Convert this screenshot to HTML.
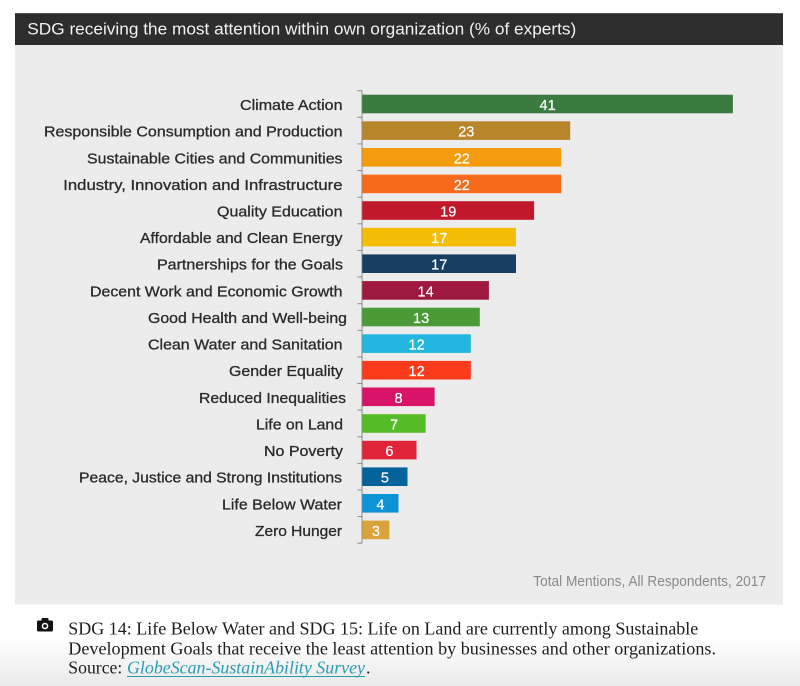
<!DOCTYPE html>
<html>
<head>
<meta charset="utf-8">
<style>
  html, body { margin:0; padding:0; background:#fff; }
  body { width:800px; height:686px; overflow:hidden; }
  svg { display:block; }
  .lbl { font-family:"Liberation Sans", sans-serif; font-size:14.5px; fill:#2b2b2b; stroke:#2b2b2b; stroke-width:0.3px; }
  .val { font-family:"Liberation Sans", sans-serif; font-size:14.5px; fill:#fff; text-anchor:middle; stroke:#fff; stroke-width:0.2px; }
  .cap { font-family:"Liberation Serif", serif; font-size:18px; fill:#1e1e1e; }
</style>
</head>
<body>
<svg width="800" height="686" viewBox="0 0 800 686" xmlns="http://www.w3.org/2000/svg">
  <defs>
    <linearGradient id="bg" x1="0" y1="0" x2="0" y2="1">
      <stop offset="0" stop-color="#ffffff"/>
      <stop offset="1" stop-color="#e9e9e9"/>
    </linearGradient>
  </defs>
  <rect x="0" y="0" width="800" height="686" fill="#fff"/>
  <rect x="0" y="640" width="800" height="46" fill="url(#bg)"/>

  <!-- header -->
  <rect x="15" y="13" width="768" height="32" fill="#2d2d2d"/>
  <rect x="15" y="13" width="768" height="1" fill="#555"/>
  <text x="27.3" y="34.3" font-family="Liberation Sans, sans-serif" font-size="17" fill="#f2f2f2" textLength="549" lengthAdjust="spacingAndGlyphs">SDG receiving the most attention within own organization (% of experts)</text>

  <!-- panel -->
  <rect x="15" y="45" width="768" height="559.5" fill="#ececec"/>

  <!-- axis -->
  <line x1="362" y1="90.7" x2="362" y2="543.3" stroke="#8a8a8a" stroke-width="1"/>
  <g stroke="#8a8a8a" stroke-width="1">
    <line x1="357.5" y1="90.7" x2="362" y2="90.7"/>
    <line x1="357.5" y1="117.3" x2="362" y2="117.3"/>
    <line x1="357.5" y1="143.9" x2="362" y2="143.9"/>
    <line x1="357.5" y1="170.6" x2="362" y2="170.6"/>
    <line x1="357.5" y1="197.2" x2="362" y2="197.2"/>
    <line x1="357.5" y1="223.8" x2="362" y2="223.8"/>
    <line x1="357.5" y1="250.4" x2="362" y2="250.4"/>
    <line x1="357.5" y1="277.0" x2="362" y2="277.0"/>
    <line x1="357.5" y1="303.7" x2="362" y2="303.7"/>
    <line x1="357.5" y1="330.3" x2="362" y2="330.3"/>
    <line x1="357.5" y1="356.9" x2="362" y2="356.9"/>
    <line x1="357.5" y1="383.5" x2="362" y2="383.5"/>
    <line x1="357.5" y1="410.1" x2="362" y2="410.1"/>
    <line x1="357.5" y1="436.8" x2="362" y2="436.8"/>
    <line x1="357.5" y1="463.4" x2="362" y2="463.4"/>
    <line x1="357.5" y1="490.0" x2="362" y2="490.0"/>
    <line x1="357.5" y1="516.6" x2="362" y2="516.6"/>
    <line x1="357.5" y1="543.2" x2="362" y2="543.2"/>
  </g>

  <!-- bars -->
  <rect x="362.3" y="94.7" width="370.6" height="18.6" fill="#3b7b40"/>
  <rect x="362.3" y="121.3" width="207.9" height="18.6" fill="#b8862a"/>
  <rect x="362.3" y="148.0" width="198.9" height="18.6" fill="#f59b0e"/>
  <rect x="362.3" y="174.6" width="198.9" height="18.6" fill="#f66a1c"/>
  <rect x="362.3" y="201.2" width="171.8" height="18.6" fill="#c2182b"/>
  <rect x="362.3" y="227.8" width="153.7" height="18.6" fill="#f4bd08"/>
  <rect x="362.3" y="254.4" width="153.7" height="18.6" fill="#183f63"/>
  <rect x="362.3" y="281.1" width="126.6" height="18.6" fill="#9e1840"/>
  <rect x="362.3" y="307.7" width="117.5" height="18.6" fill="#4a9b36"/>
  <rect x="362.3" y="334.3" width="108.5" height="18.6" fill="#23b6de"/>
  <rect x="362.3" y="360.9" width="108.5" height="18.6" fill="#fb3b1c"/>
  <rect x="362.3" y="387.5" width="72.3" height="18.6" fill="#d71467"/>
  <rect x="362.3" y="414.2" width="63.3" height="18.6" fill="#55bb27"/>
  <rect x="362.3" y="440.8" width="54.2" height="18.6" fill="#e0243a"/>
  <rect x="362.3" y="467.4" width="45.2" height="18.6" fill="#03639a"/>
  <rect x="362.3" y="494.0" width="36.2" height="18.6" fill="#0c93d6"/>
  <rect x="362.3" y="520.6" width="27.1" height="18.6" fill="#d9a23a"/>

  <!-- values -->
  <text class="val" x="547.6" y="110.0">41</text>
  <text class="val" x="466.3" y="136.6">23</text>
  <text class="val" x="461.8" y="163.3">22</text>
  <text class="val" x="461.8" y="189.9">22</text>
  <text class="val" x="448.2" y="216.5">19</text>
  <text class="val" x="439.2" y="243.1">17</text>
  <text class="val" x="439.2" y="269.7">17</text>
  <text class="val" x="425.6" y="296.4">14</text>
  <text class="val" x="421.1" y="323.0">13</text>
  <text class="val" x="416.6" y="349.6">12</text>
  <text class="val" x="416.6" y="376.2">12</text>
  <text class="val" x="398.5" y="402.8">8</text>
  <text class="val" x="394.0" y="429.5">7</text>
  <text class="val" x="389.4" y="456.1">6</text>
  <text class="val" x="384.9" y="482.7">5</text>
  <text class="val" x="380.4" y="509.3">4</text>
  <text class="val" x="375.9" y="535.9">3</text>

  <!-- labels -->
  <text class="lbl" x="240" y="110.0" textLength="102.5" lengthAdjust="spacingAndGlyphs">Climate Action</text>
  <text class="lbl" x="44" y="136.6" textLength="298.5" lengthAdjust="spacingAndGlyphs">Responsible Consumption and Production</text>
  <text class="lbl" x="87" y="163.3" textLength="255.5" lengthAdjust="spacingAndGlyphs">Sustainable Cities and Communities</text>
  <text class="lbl" x="63.3" y="189.9" textLength="279.2" lengthAdjust="spacingAndGlyphs">Industry, Innovation and Infrastructure</text>
  <text class="lbl" x="217" y="216.5" textLength="125.5" lengthAdjust="spacingAndGlyphs">Quality Education</text>
  <text class="lbl" x="140" y="243.1" textLength="202.5" lengthAdjust="spacingAndGlyphs">Affordable and Clean Energy</text>
  <text class="lbl" x="157" y="269.7" textLength="186" lengthAdjust="spacingAndGlyphs">Partnerships for the Goals</text>
  <text class="lbl" x="90" y="296.4" textLength="252.5" lengthAdjust="spacingAndGlyphs">Decent Work and Economic Growth</text>
  <text class="lbl" x="148" y="323.0" textLength="199" lengthAdjust="spacingAndGlyphs">Good Health and Well-being</text>
  <text class="lbl" x="148" y="349.6" textLength="194.5" lengthAdjust="spacingAndGlyphs">Clean Water and Sanitation</text>
  <text class="lbl" x="229" y="376.2" textLength="114" lengthAdjust="spacingAndGlyphs">Gender Equality</text>
  <text class="lbl" x="199" y="402.8" textLength="147" lengthAdjust="spacingAndGlyphs">Reduced Inequalities</text>
  <text class="lbl" x="256" y="429.5" textLength="87" lengthAdjust="spacingAndGlyphs">Life on Land</text>
  <text class="lbl" x="264" y="456.1" textLength="79" lengthAdjust="spacingAndGlyphs">No Poverty</text>
  <text class="lbl" x="79" y="482.7" textLength="263" lengthAdjust="spacingAndGlyphs">Peace, Justice and Strong Institutions</text>
  <text class="lbl" x="222" y="509.3" textLength="120" lengthAdjust="spacingAndGlyphs">Life Below Water</text>
  <text class="lbl" x="255" y="535.9" textLength="87" lengthAdjust="spacingAndGlyphs">Zero Hunger</text>

  <!-- footer note -->
  <text x="533.3" y="586" font-family="Liberation Sans, sans-serif" font-size="14.5" fill="#8a8a8a" textLength="232.7" lengthAdjust="spacingAndGlyphs">Total Mentions, All Respondents, 2017</text>

  <!-- camera icon -->
  <g>
    <rect x="37" y="620.5" width="16" height="11" rx="1.5" fill="#111"/>
    <rect x="41.5" y="618" width="7" height="4" rx="1" fill="#111"/>
    <circle cx="45" cy="626" r="3.3" fill="#fff"/>
    <circle cx="45" cy="626" r="1.8" fill="#111"/>
  </g>

  <!-- caption -->
  <text class="cap" x="68.3" y="634.3" textLength="630" lengthAdjust="spacingAndGlyphs">SDG 14: Life Below Water and SDG 15: Life on Land are currently among Sustainable</text>
  <text class="cap" x="68.3" y="654.3" textLength="647.7" lengthAdjust="spacingAndGlyphs">Development Goals that receive the least attention by businesses and other organizations.</text>
  <text class="cap" x="68.3" y="673.3" textLength="54" lengthAdjust="spacingAndGlyphs">Source:</text>
  <text x="127" y="673.3" font-family="Liberation Serif, serif" font-size="18" font-style="italic" fill="#2a9db3" textLength="238" lengthAdjust="spacingAndGlyphs">GlobeScan-SustainAbility Survey</text>
  <line x1="127" y1="676.5" x2="365" y2="676.5" stroke="#2a9db3" stroke-width="1"/>
  <text class="cap" x="366" y="673.3">.</text>
</svg>
</body>
</html>
